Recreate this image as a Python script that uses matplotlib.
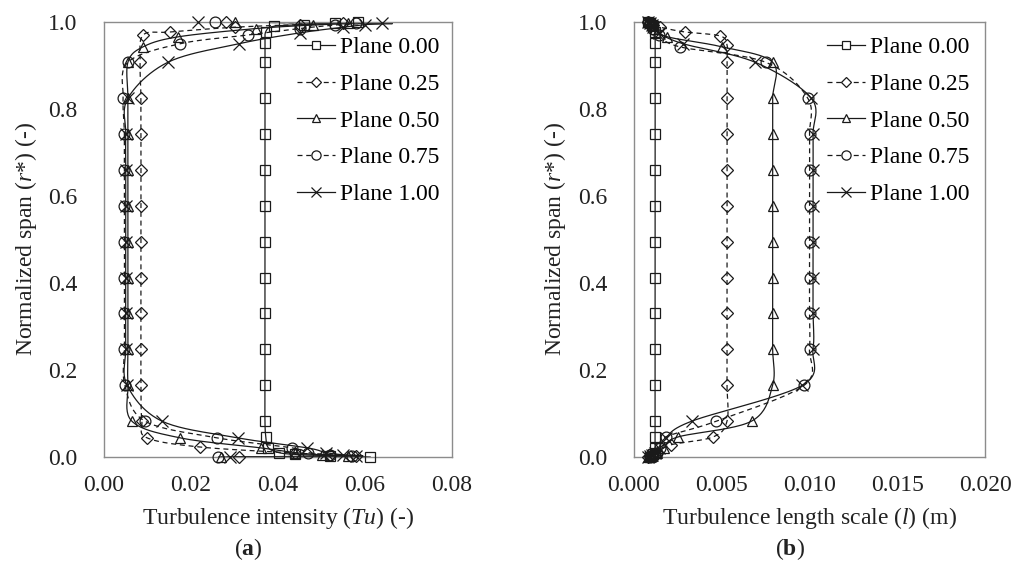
import numpy as np
import matplotlib
matplotlib.use("Agg")
import matplotlib.pyplot as plt
from matplotlib.ticker import FixedLocator, FormatStrFormatter

plt.rcParams["font.family"] = ["Liberation Serif", "DejaVu Serif"]
plt.rcParams["mathtext.fontset"] = "custom"
plt.rcParams["mathtext.rm"] = "Liberation Serif"
plt.rcParams["mathtext.it"] = "Liberation Serif:italic"
plt.rcParams["mathtext.bf"] = "Liberation Serif:bold"

# ---------------------------------------------------------------- data
planes = ["Plane 0.00", "Plane 0.25", "Plane 0.50", "Plane 0.75", "Plane 1.00"]

# (a) turbulence intensity Tu vs normalized span r*
span_tu_p000 = [0.0, 0.003, 0.006, 0.010, 0.021, 0.045, 0.0825, 0.165, 0.2475, 0.33, 0.4125, 0.495,
                0.5775, 0.66, 0.7425, 0.825, 0.9075, 0.952, 0.978, 0.990, 0.994, 0.997, 1.0]
tu_p000 = [0.0612, 0.0520, 0.0440, 0.0402, 0.0378, 0.0372, 0.0370, 0.0370, 0.0370, 0.0370, 0.0370, 0.0370,
           0.0370, 0.0370, 0.0370, 0.0370, 0.0370, 0.0370, 0.0372, 0.0390, 0.0460, 0.0530, 0.0585]

span_tu_p025 = [0.0, 0.002, 0.005, 0.009, 0.023, 0.044, 0.0825, 0.165, 0.2475, 0.33, 0.4125, 0.495,
                0.5775, 0.66, 0.7425, 0.825, 0.9075, 0.970, 0.977, 0.988, 0.994, 0.997, 1.0]
tu_p025 = [0.0310, 0.0580, 0.0520, 0.0440, 0.0220, 0.0099, 0.0087, 0.0085, 0.0085, 0.0085, 0.0085, 0.0085,
           0.0085, 0.0085, 0.0085, 0.0085, 0.0083, 0.0090, 0.0152, 0.0300, 0.0450, 0.0550, 0.0280]

span_tu_p050 = [0.0, 0.002, 0.005, 0.010, 0.021, 0.044, 0.0825, 0.165, 0.2475, 0.33, 0.4125, 0.495,
                0.5775, 0.66, 0.7425, 0.825, 0.9075, 0.943, 0.966, 0.985, 0.993, 0.997, 1.0]
tu_p050 = [0.0270, 0.0560, 0.0500, 0.0440, 0.0360, 0.0175, 0.0064, 0.0055, 0.0055, 0.0055, 0.0055, 0.0055,
           0.0055, 0.0055, 0.0055, 0.0055, 0.0055, 0.0090, 0.0171, 0.0350, 0.0480, 0.0560, 0.0300]

span_tu_p075 = [0.0, 0.002, 0.005, 0.010, 0.021, 0.044, 0.0825, 0.165, 0.2475, 0.33, 0.4125, 0.495,
                0.5775, 0.66, 0.7425, 0.825, 0.9075, 0.950, 0.970, 0.985, 0.993, 0.997, 1.0]
tu_p075 = [0.0262, 0.0570, 0.0520, 0.0470, 0.0432, 0.0260, 0.0094, 0.0048, 0.0047, 0.0047, 0.0047, 0.0047,
           0.0047, 0.0047, 0.0047, 0.0044, 0.0055, 0.0175, 0.0330, 0.0450, 0.0530, 0.0580, 0.0255]

span_tu_p100 = [0.0, 0.002, 0.005, 0.010, 0.021, 0.044, 0.0825, 0.165, 0.2475, 0.33, 0.4125, 0.495,
                0.5775, 0.66, 0.7425, 0.825, 0.9075, 0.950, 0.975, 0.988, 0.994, 0.997, 1.0]
tu_p100 = [0.0290, 0.0580, 0.0550, 0.0510, 0.0467, 0.0308, 0.0133, 0.0053, 0.0050, 0.0050, 0.0050, 0.0050,
           0.0050, 0.0050, 0.0050, 0.0055, 0.0147, 0.0310, 0.0450, 0.0550, 0.0600, 0.0640, 0.0215]

# (b) turbulence length scale l (m) vs normalized span r*
span_l_p000 = [0.0, 0.003, 0.006, 0.010, 0.021, 0.045, 0.0825, 0.165, 0.2475, 0.33, 0.4125, 0.495,
               0.5775, 0.66, 0.7425, 0.825, 0.9075, 0.952, 0.978, 0.990, 0.994, 0.997, 1.0]
l_p000 = [0.0009, 0.0010, 0.0011, 0.0012, 0.0012, 0.0012, 0.0012, 0.0012, 0.0012, 0.0012, 0.0012, 0.0012,
          0.0012, 0.0012, 0.0012, 0.0012, 0.0012, 0.0012, 0.0012, 0.0011, 0.0010, 0.0009, 0.0008]

span_l_p025 = [0.0, 0.002, 0.005, 0.009, 0.028, 0.046, 0.0825, 0.165, 0.2475, 0.33, 0.4125, 0.495,
               0.5775, 0.66, 0.7425, 0.825, 0.9075, 0.947, 0.968, 0.977, 0.988, 0.994, 0.997, 1.0]
l_p025 = [0.0008, 0.0009, 0.0011, 0.0013, 0.0021, 0.0045, 0.0053, 0.0053, 0.0053, 0.0053, 0.0053, 0.0053,
          0.0053, 0.0053, 0.0053, 0.0053, 0.0053, 0.0053, 0.0049, 0.0029, 0.0015, 0.0011, 0.0009, 0.0008]

span_l_p050 = [0.0, 0.002, 0.005, 0.010, 0.021, 0.046, 0.0825, 0.165, 0.2475, 0.33, 0.4125, 0.495,
               0.5775, 0.66, 0.7425, 0.825, 0.9075, 0.943, 0.966, 0.985, 0.993, 0.997, 1.0]
l_p050 = [0.0008, 0.0009, 0.0010, 0.0013, 0.0017, 0.0025, 0.0067, 0.0079, 0.0079, 0.0079, 0.0079, 0.0079,
          0.0079, 0.0079, 0.0079, 0.0079, 0.0079, 0.0050, 0.0019, 0.0012, 0.0010, 0.0009, 0.0008]

span_l_p075 = [0.0, 0.002, 0.005, 0.010, 0.021, 0.046, 0.0825, 0.165, 0.2475, 0.33, 0.4125, 0.495,
               0.5775, 0.66, 0.7425, 0.825, 0.9075, 0.943, 0.970, 0.985, 0.993, 0.997, 1.0]
l_p075 = [0.0009, 0.0010, 0.0011, 0.0013, 0.0015, 0.0018, 0.0047, 0.0097, 0.0100, 0.0100, 0.0100, 0.0100,
          0.0100, 0.0100, 0.0100, 0.0099, 0.0075, 0.0026, 0.0014, 0.0011, 0.0010, 0.0009, 0.0008]

span_l_p100 = [0.0, 0.002, 0.005, 0.010, 0.021, 0.044, 0.0825, 0.165, 0.2475, 0.33, 0.4125, 0.495,
               0.5775, 0.66, 0.7425, 0.825, 0.9075, 0.950, 0.975, 0.988, 0.994, 0.997, 1.0]
l_p100 = [0.0008, 0.0009, 0.0010, 0.0012, 0.0014, 0.0018, 0.0033, 0.0096, 0.0102, 0.0102, 0.0102, 0.0102,
          0.0102, 0.0102, 0.0102, 0.0101, 0.0069, 0.0028, 0.0014, 0.0011, 0.0010, 0.0009, 0.0008]

tu_ticks = [0.00, 0.02, 0.04, 0.06, 0.08]
l_ticks = [0.000, 0.005, 0.010, 0.015, 0.020]
span_ticks = [0.0, 0.2, 0.4, 0.6, 0.8, 1.0]

# ---------------------------------------------------------------- styles
INK = "#1a1a1a"
TXT = "#222222"
FRAME = "#8c8c8c"
FS = 17
DASH = (0, (4.0, 3.0))
styles = [
    dict(marker="s", ls="-", ms=6.6),
    dict(marker="D", ls=DASH, ms=5.8),
    dict(marker="^", ls="-", ms=7.6),
    dict(marker="o", ls=DASH, ms=7.8),
    dict(marker="x", ls="-", ms=8.0),
]


def smooth(x, y, n=24):
    """Excel-like smoothed line: Catmull-Rom cubic Bezier through the points."""
    p = np.column_stack([x, y]).astype(float)
    ext = np.vstack([p[0], p, p[-1]])
    t = np.linspace(0.0, 1.0, n)[:, None]
    segs = []
    for i in range(len(p) - 1):
        p0, p1, p2, p3 = ext[i], ext[i + 1], ext[i + 2], ext[i + 3]
        c1 = p1 + (p2 - p0) / 6.0
        c2 = p2 - (p3 - p1) / 6.0
        b = ((1 - t) ** 3) * p1 + 3 * ((1 - t) ** 2) * t * c1 + 3 * (1 - t) * t ** 2 * c2 + t ** 3 * p2
        segs.append(b if i == 0 else b[1:])
    s = np.vstack(segs)
    return s[:, 0], s[:, 1]


def draw_panel(ax, series, xticks, xfmt, xlabel, legend_x):
    for (xv, yv), st, name in zip(series, styles, planes):
        sx, sy = smooth(xv, yv)
        ax.plot(sx, sy, color=INK, lw=0.9, ls=st["ls"], zorder=2)
        ax.plot(xv, yv, ls="none", marker=st["marker"], ms=st["ms"], mfc="none",
                mec=INK, mew=0.9, clip_on=False, zorder=3)
        # legend proxy combining line and marker
        ax.plot([], [], color=INK, lw=0.9, ls=st["ls"], marker=st["marker"],
                ms=st["ms"] * 0.85, mfc="white", mec=INK, mew=0.9, label=name)
    ax.set_xlim(xticks[0], xticks[-1])
    ax.set_ylim(0.0, 1.0)
    ax.xaxis.set_major_locator(FixedLocator(xticks))
    ax.yaxis.set_major_locator(FixedLocator(span_ticks))
    ax.xaxis.set_major_formatter(FormatStrFormatter(xfmt))
    ax.yaxis.set_major_formatter(FormatStrFormatter("%.1f"))
    ax.tick_params(axis="both", length=0, labelsize=FS, colors=TXT)
    ax.tick_params(axis="x", pad=13)
    ax.tick_params(axis="y", pad=19)
    for sp in ax.spines.values():
        sp.set_color(FRAME)
        sp.set_linewidth(1.0)
    ax.set_xlabel(xlabel, fontsize=FS, color=TXT, va="center")
    ax.xaxis.set_label_coords(0.5, -0.14)
    ax.set_ylabel(r"Normalized span ($\mathit{r}$*) (-)", fontsize=FS, color=TXT, va="center")
    ax.yaxis.set_label_coords(-0.224, 0.5)
    ax.legend(loc="upper left", bbox_to_anchor=(legend_x, 0.966), frameon=False,
              fontsize=FS, handlelength=1.6, handletextpad=0.2, labelspacing=0.64,
              borderaxespad=0.0, borderpad=0.0)


fig = plt.figure(figsize=(10.11, 5.63), dpi=100)
W, H = 1011.0, 563.0
ax_a = fig.add_axes([104 / W, (H - 457) / H, 348 / W, 435 / H])
ax_b = fig.add_axes([634 / W, (H - 457) / H, 351 / W, 435 / H])

draw_panel(ax_a,
           [(tu_p000, span_tu_p000), (tu_p025, span_tu_p025), (tu_p050, span_tu_p050),
            (tu_p075, span_tu_p075), (tu_p100, span_tu_p100)],
           tu_ticks, "%.2f", r"Turbulence intensity ($\mathit{Tu}$) (-)", 0.555)
draw_panel(ax_b,
           [(l_p000, span_l_p000), (l_p025, span_l_p025), (l_p050, span_l_p050),
            (l_p075, span_l_p075), (l_p100, span_l_p100)],
           l_ticks, "%.3f", r"Turbulence length scale ($\mathit{l}$) (m)", 0.55)

fig.text(248 / W, 1 - 549 / H, r"($\mathbf{a}$)", ha="center", va="center", fontsize=FS, color=TXT)
fig.text(790 / W, 1 - 549 / H, r"($\mathbf{b}$)", ha="center", va="center", fontsize=FS, color=TXT)

fig.savefig("out.png", dpi=100)
